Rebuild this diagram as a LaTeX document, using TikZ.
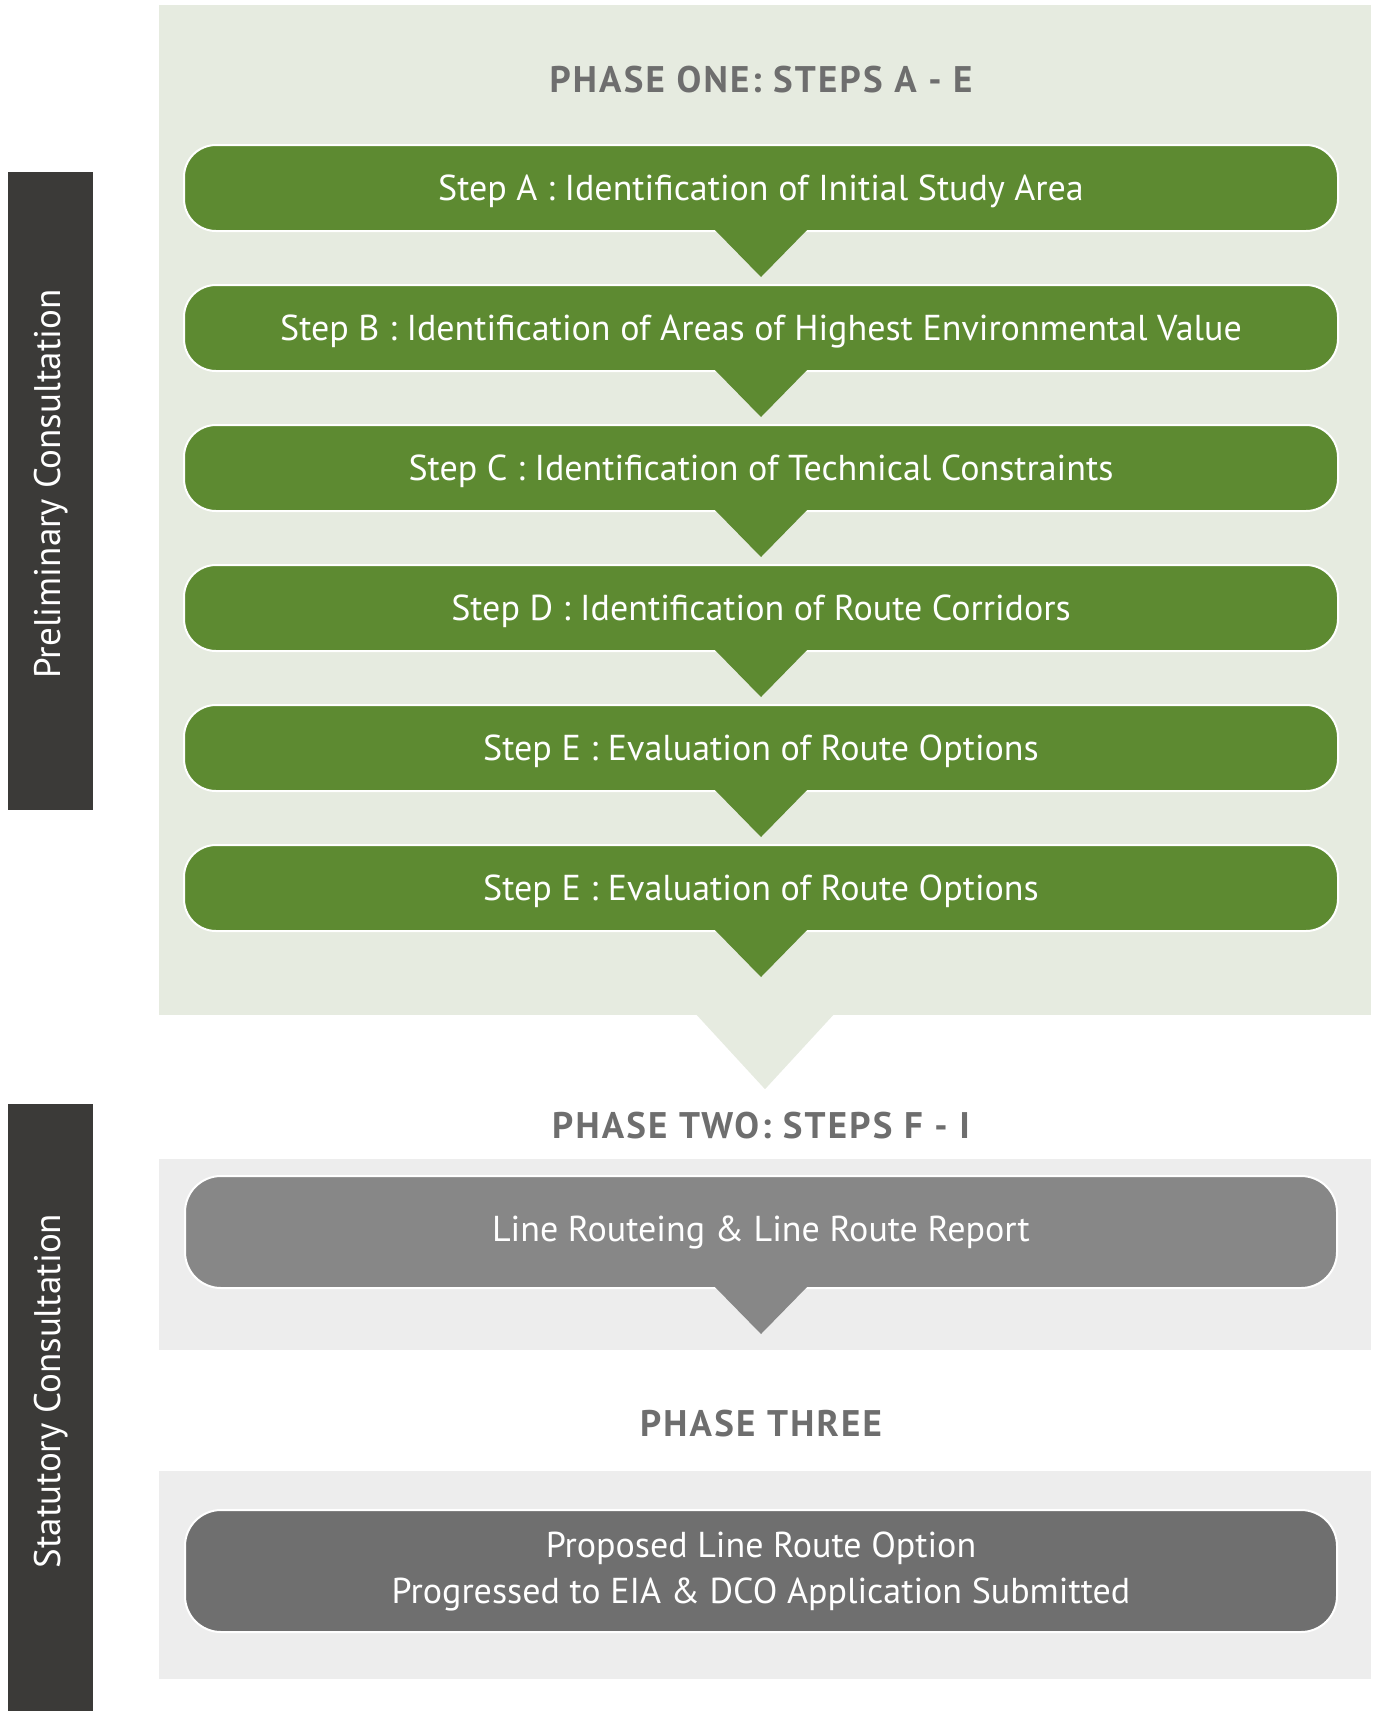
\documentclass[tikz,border=0pt]{standalone}
\usepackage{fontspec}
\setmainfont{PT Sans}
\usepackage{tikz}
\usetikzlibrary{positioning}
\definecolor{panelgreen}{HTML}{E6EBE0}
\definecolor{stepgreen}{HTML}{5D8A31}
\definecolor{panelgrey}{HTML}{EDEDED}
\definecolor{routegrey}{HTML}{878787}
\definecolor{optiongrey}{HTML}{6F6F6F}
\definecolor{bardark}{HTML}{3B3A38}
\definecolor{titlegrey}{HTML}{6E6E6E}
\newcommand{\stepfont}{\fontsize{36}{46}\selectfont}
\newcommand{\barfont}{\fontsize{37}{46}\selectfont}
\newcommand{\titlefont}{\fontsize{37}{44}\selectfont\bfseries\addfontfeature{LetterSpace=6}}
\tikzset{
  panel/.style={inner sep=0pt, minimum width=1212pt},
  stepbox/.style={draw=white, line width=2pt, fill=stepgreen, rounded corners=32pt, minimum width=1154pt, minimum height=86pt, text depth=0pt, text=white, font=\stepfont},
  phasebox/.style={draw=white, line width=2pt, rounded corners=36pt, minimum width=1152pt, text=white, font=\stepfont, align=center},
  phasetitle/.style={text=titlegrey, font=\titlefont},
  sidebar/.style={fill=bardark, inner sep=0pt, minimum width=85pt},
  bartext/.style={text=white, font=\barfont, rotate=90}
}
\begin{document}
\begin{tikzpicture}[x=1pt, y=-1pt]
\useasboundingbox (0,0) rectangle (1377,1711);

% panels
\node (panelone) at (765,510) [panel, fill=panelgreen, minimum height=1010pt] {};
\fill [panelgreen] ([xshift=-69pt, yshift=1pt]panelone.south) -- ([xshift=69pt, yshift=1pt]panelone.south) -- ([yshift=-74pt]panelone.south) -- cycle;
\node (paneltwo) at (765,1254.5) [panel, fill=panelgrey, minimum height=191pt] {};
\node (panelthree) at (765,1575) [panel, fill=panelgrey, minimum height=208pt] {};

% side bars
\node (prelim) at (50.5,491) [sidebar, minimum height=638pt] {};
\node (prelimtext) at (51,484) [bartext] {Preliminary Consultation};
\node (statutory) at (50.5,1407.5) [sidebar, minimum height=607pt] {};
\node (statutorytext) at (51,1391) [bartext] {Statutory Consultation};

% phase one
\node (titleone) at (761,80) [phasetitle] {PHASE ONE: STEPS A - E};
\node (stepa) at (761,188) [stepbox] {Step A : Identification of Initial Study Area};
\node (stepb) at (stepa.south) [stepbox, below=52pt] {Step B : Identification of Areas of Highest Environmental Value};
\node (stepc) at (stepb.south) [stepbox, below=52pt] {Step C : Identification of Technical Constraints};
\node (stepd) at (stepc.south) [stepbox, below=52pt] {Step D : Identification of Route Corridors};
\node (stepe) at (stepd.south) [stepbox, below=52pt] {Step E : Evaluation of Route Options};
\node (stepf) at (stepe.south) [stepbox, below=52pt] {Step E : Evaluation of Route Options};
\foreach \s in {stepa,stepb,stepc,stepd,stepe,stepf}
  \fill [stepgreen] ([xshift=-46pt, yshift=2pt]\s.south) -- ([xshift=46pt, yshift=2pt]\s.south) -- ([yshift=-45pt]\s.south) -- cycle;

% phase two
\node (titletwo) at (761,1126) [phasetitle] {PHASE TWO: STEPS F - I};
\node (routing) at (761,1232) [phasebox, fill=routegrey, minimum height=112pt] {Line Routeing \& Line Route Report};
\fill [routegrey] ([xshift=-46pt, yshift=2pt]routing.south) -- ([xshift=46pt, yshift=2pt]routing.south) -- ([yshift=-45pt]routing.south) -- cycle;

% phase three
\node (titlethree) at (761,1424) [phasetitle] {PHASE THREE};
\node (proposed) at (761,1571) [phasebox, fill=optiongrey, minimum height=122pt] {Proposed Line Route Option\\Progressed to EIA \& DCO Application Submitted};
\end{tikzpicture}
\end{document}
